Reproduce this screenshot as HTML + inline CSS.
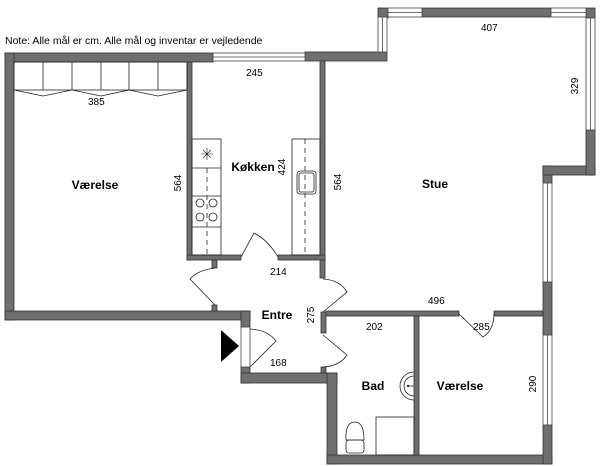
<!DOCTYPE html>
<html><head><style>body{margin:0;background:#fff}svg{display:block}text{font-family:"Liberation Sans",sans-serif}</style></head><body>
<svg width="600" height="466" viewBox="0 0 600 466" xmlns="http://www.w3.org/2000/svg">
<g fill="#6f6f6f" stroke="#333" stroke-width="0.8">
<!-- bedroom outer -->
<rect x="5" y="53" width="208" height="9"/>
<rect x="5" y="53" width="9" height="267"/>
<rect x="5" y="311" width="245" height="9"/>
<rect x="241" y="311" width="9" height="16"/>
<rect x="241" y="367" width="9" height="16"/>
<rect x="241" y="373" width="96" height="10"/>
<rect x="327" y="373" width="10" height="91"/>
<rect x="327" y="455" width="225" height="9"/>
<!-- right -->
<rect x="543" y="425" width="9" height="39"/>
<rect x="543" y="282" width="9" height="53"/>
<rect x="543" y="166" width="9" height="17"/>
<rect x="543" y="166" width="52" height="9"/>
<rect x="586" y="130" width="9" height="45"/>
<rect x="586" y="8" width="9" height="10"/>
<rect x="378" y="8" width="10" height="10"/>
<rect x="422" y="8" width="129" height="9"/>
<rect x="305" y="52" width="82" height="9"/>
<!-- interior -->
<rect x="187" y="62" width="5" height="198"/>
<rect x="320" y="61" width="5" height="217"/>
<rect x="187" y="255" width="54" height="5"/>
<rect x="278" y="255" width="47" height="5"/>
<rect x="212" y="260" width="5" height="8"/>
<rect x="212" y="305" width="5" height="6"/>
<rect x="321" y="312" width="5" height="21"/>
<rect x="321" y="367" width="5" height="6"/>
<rect x="326" y="311" width="133" height="5"/>
<rect x="494" y="311" width="49" height="5"/>
<rect x="414" y="316" width="5" height="139"/>
</g>
<!-- windows -->
<g fill="#fff" stroke="#444" stroke-width="0.8">
<rect x="213" y="53" width="92" height="8"/><line x1="213" y1="57" x2="305" y2="57"/>
<rect x="378" y="17" width="9" height="35"/><line x1="382.5" y1="17" x2="382.5" y2="52"/>
<rect x="388" y="8" width="34" height="9"/><line x1="388" y1="12.5" x2="422" y2="12.5"/>
<rect x="551" y="8" width="35" height="9"/><line x1="551" y1="12.5" x2="586" y2="12.5"/>
<rect x="586" y="18" width="9" height="112"/><line x1="590.5" y1="18" x2="590.5" y2="130"/>
<rect x="543" y="183" width="9" height="99"/><line x1="547.5" y1="183" x2="547.5" y2="282"/>
<rect x="543" y="335" width="9" height="90"/><line x1="547.5" y1="335" x2="547.5" y2="425"/>
<rect x="241" y="327" width="9" height="40"/>
</g>
<!-- wardrobe -->
<g fill="none" stroke="#222" stroke-width="0.8">
<rect x="14" y="62" width="173" height="28"/>
<path d="M43 62V90M72 62V90M101 62V90M129 62V90M158 62V90"/>
<path d="M14 90L43 96L72 90L101 96L129 90L158 96L187 90"/>
<!-- kitchen -->
<rect x="192" y="139" width="29" height="116"/>
<path d="M192 168H221M192 196H221M192 227H221"/>
<path d="M207 168V255" stroke-dasharray="5,4"/>
<circle cx="200" cy="203" r="4"/><circle cx="213" cy="203" r="4"/><circle cx="200" cy="217" r="4"/><circle cx="213" cy="217" r="4"/>
<path d="M201 154H213M207 148V160M203 150L211 158M211 150L203 158" stroke-width="0.6"/>
<rect x="292" y="139" width="28" height="116"/>
<path d="M305 139V255" stroke-dasharray="5,4"/>
<rect x="297" y="171" width="19" height="23" rx="3"/><rect x="299" y="173" width="15" height="19" rx="2"/>
<!-- doors -->
<path d="M241 257L254 233Q268 240 278 257"/>
<path d="M215 305L190 279Q198 270 215 268"/>
<path d="M323 312L347 292Q340 280 323 279"/>
<path d="M323 335L347 355Q340 366 323 367"/>
<path d="M250 367L276 341Q268 330 250 329"/>
<path d="M459 314L483 337Q494 330 494 314"/>
<!-- bad -->
<path d="M414 372A14 14 0 0 0 414 400"/><path d="M414 376A10 10 0 0 0 414 396"/>
<path d="M408 386H414"/><circle cx="408" cy="386" r="0.8"/>
<rect x="376" y="417" width="38" height="38"/>
<path d="M346 440Q345 422 355 422Q364 422 364 440Z"/><rect x="346" y="440" width="18" height="13" rx="3"/>
</g>
<polygon points="221,330 239,346 221,362" fill="#000"/>
<g font-size="10" fill="#000">
<text x="5" y="44" font-size="10.5">Note: Alle mål er cm. Alle mål og inventar er vejledende</text>
<text x="88" y="105">385</text><text x="246" y="76">245</text><text x="481" y="31">407</text>
<text x="270" y="275">214</text><text x="428" y="304">496</text><text x="366" y="330">202</text>
<text x="473" y="330">285</text><text x="270" y="366">168</text>
<text transform="translate(181,183) rotate(-90)" text-anchor="middle">564</text>
<text transform="translate(285,167) rotate(-90)" text-anchor="middle">424</text>
<text transform="translate(341,182) rotate(-90)" text-anchor="middle">564</text>
<text transform="translate(578,86) rotate(-90)" text-anchor="middle">329</text>
<text transform="translate(314,315) rotate(-90)" text-anchor="middle">275</text>
<text transform="translate(536,384) rotate(-90)" text-anchor="middle">290</text>
</g>
<g font-size="12" font-weight="bold" fill="#000" text-anchor="middle">
<text x="95" y="189">Værelse</text><text x="253" y="171">Køkken</text><text x="435" y="188">Stue</text>
<text x="277" y="319">Entre</text><text x="373" y="390">Bad</text><text x="460" y="390">Værelse</text>
</g>
</svg>
</body></html>
